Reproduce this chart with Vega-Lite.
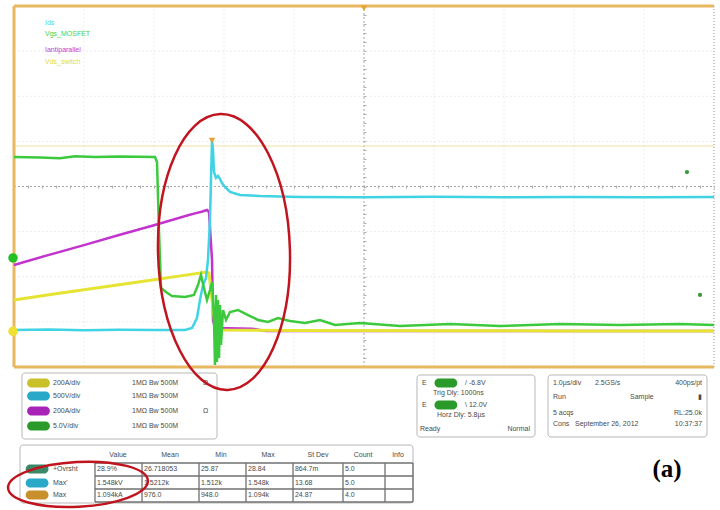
{
  "$schema": "https://vega.github.io/schema/vega-lite/v6.json",
  "width": 720,
  "height": 510,
  "autosize": "none",
  "padding": 0,
  "background": "white",
  "config": {"view": {"stroke": null}},
  "encoding": {
    "x": {"field": "x", "type": "quantitative", "scale": {"domain": [-0.2, 10.0857], "nice": false, "zero": false},
      "axis": {"orient": "bottom", "offset": -325, "domain": false, "labels": false, "grid": false, "title": null, "ticks": true, "tickSize": 3, "tickColor": "#b0b0b0", "tickWidth": 1,
        "values": [0,0.2,0.4,0.6,0.8,1,1.2,1.4,1.6,1.8,2,2.2,2.4,2.6,2.8,3,3.2,3.4,3.6,3.8,4,4.2,4.4,4.6,4.8,5,5.2,5.4,5.6,5.8,6,6.2,6.4,6.6,6.8,7,7.2,7.4,7.6,7.8,8,8.2,8.4,8.6,8.8,9,9.2,9.4,9.6,9.8,10]}},
    "y": {"field": "y", "type": "quantitative", "scale": {"domain": [-3.169, 8.133], "nice": false, "zero": false},
      "axis": {"orient": "left", "offset": -366, "domain": false, "labels": false, "grid": false, "title": null, "ticks": true, "tickSize": 3, "tickColor": "#b0b0b0", "tickWidth": 1,
        "values": [0,0.2,0.4,0.6,0.8,1,1.2,1.4,1.6,1.8,2,2.2,2.4,2.6,2.8,3,3.2,3.4,3.6,3.8,4,4.2,4.4,4.6,4.8,5,5.2,5.4,5.6,5.8,6,6.2,6.4,6.6,6.8,7,7.2,7.4,7.6,7.8,8]}}
  },
  "datasets": {
    "grid": [
      {"x": 1, "y": 0, "x2": 1, "y2": 8}, {"x": 2, "y": 0, "x2": 2, "y2": 8}, {"x": 3, "y": 0, "x2": 3, "y2": 8}, {"x": 4, "y": 0, "x2": 4, "y2": 8},
      {"x": 6, "y": 0, "x2": 6, "y2": 8}, {"x": 7, "y": 0, "x2": 7, "y2": 8}, {"x": 8, "y": 0, "x2": 8, "y2": 8}, {"x": 9, "y": 0, "x2": 9, "y2": 8},
      {"x": 0, "y": 1, "x2": 10, "y2": 1}, {"x": 0, "y": 2, "x2": 10, "y2": 2}, {"x": 0, "y": 3, "x2": 10, "y2": 3},
      {"x": 0, "y": 5, "x2": 10, "y2": 5}, {"x": 0, "y": 6, "x2": 10, "y2": 6}, {"x": 0, "y": 7, "x2": 10, "y2": 7}
    ],
    "center": [
      {"x": 5, "y": 0, "x2": 5, "y2": 8}, {"x": 0, "y": 4, "x2": 10, "y2": 4}
    ],
    "border": [
      {"x": 0, "y": 0, "x2": 0, "y2": 8}, {"x": 0, "y": 8, "x2": 10, "y2": 8}, {"x": 0, "y": 0, "x2": 10, "y2": 0}
    ],
    "rborder": [{"x": 10, "y": 0, "x2": 10, "y2": 8}],
    "trig": [{"x": 0, "y": 4.898, "x2": 10, "y2": 4.898}],
    "boxes": [
      {"x": 0.114, "x2": 2.9, "y": -0.133, "y2": -1.596},
      {"x": 0.086, "x2": 5.7, "y": -1.729, "y2": -3.014},
      {"x": 5.757, "x2": 7.443, "y": -0.177, "y2": -1.551},
      {"x": 7.629, "x2": 9.9, "y": -0.177, "y2": -1.551}
    ],
    "table": [
      {"x": 1.157, "y": -2.127, "x2": 5.7, "y2": -2.127}, {"x": 1.157, "y": -2.416, "x2": 5.7, "y2": -2.416},
      {"x": 1.157, "y": -2.704, "x2": 5.7, "y2": -2.704}, {"x": 1.157, "y": -2.992, "x2": 5.7, "y2": -2.992},
      {"x": 1.157, "y": -2.127, "x2": 1.157, "y2": -2.992}, {"x": 1.829, "y": -2.127, "x2": 1.829, "y2": -2.992},
      {"x": 2.643, "y": -2.127, "x2": 2.643, "y2": -2.992}, {"x": 3.314, "y": -2.127, "x2": 3.314, "y2": -2.992},
      {"x": 3.986, "y": -2.127, "x2": 3.986, "y2": -2.992}, {"x": 4.7, "y": -2.127, "x2": 4.7, "y2": -2.992},
      {"x": 5.3, "y": -2.127, "x2": 5.3, "y2": -2.992}, {"x": 5.7, "y": -2.127, "x2": 5.7, "y2": -2.992}
    ],
    "magenta": [
      {"x": 0, "y": 2.26}, {"x": 0.5, "y": 2.485}, {"x": 1.0, "y": 2.70}, {"x": 1.5, "y": 2.925}, {"x": 2.0, "y": 3.14},
      {"x": 2.5, "y": 3.37}, {"x": 2.6, "y": 3.41}, {"x": 2.68, "y": 3.44}, {"x": 2.757, "y": 3.479}, {"x": 2.786, "y": 3.435},
      {"x": 2.829, "y": 2.371}, {"x": 2.843, "y": 1.042}, {"x": 2.871, "y": 0.864}, {"x": 3.4, "y": 0.85}, {"x": 3.6, "y": 0.8}, {"x": 10, "y": 0.798}
    ],
    "yellow": [
      {"x": 0, "y": 1.485}, {"x": 0.5, "y": 1.6}, {"x": 1.0, "y": 1.71}, {"x": 1.5, "y": 1.825}, {"x": 2.0, "y": 1.935},
      {"x": 2.5, "y": 2.047}, {"x": 2.757, "y": 2.105}, {"x": 2.786, "y": 2.083}, {"x": 2.829, "y": 1.485}, {"x": 2.871, "y": 0.931},
      {"x": 2.943, "y": 0.82}, {"x": 4, "y": 0.81}, {"x": 6, "y": 0.805}, {"x": 8, "y": 0.8}, {"x": 10, "y": 0.798}
    ],
    "cyan": [
      {"x": 0, "y": 0.82}, {"x": 0.5, "y": 0.83}, {"x": 1.0, "y": 0.815}, {"x": 1.5, "y": 0.825}, {"x": 2.0, "y": 0.82},
      {"x": 2.443, "y": 0.82}, {"x": 2.543, "y": 0.864}, {"x": 2.614, "y": 1.086}, {"x": 2.657, "y": 1.485}, {"x": 2.7, "y": 1.817},
      {"x": 2.743, "y": 1.972}, {"x": 2.771, "y": 2.371}, {"x": 2.8, "y": 3.258}, {"x": 2.814, "y": 4.144}, {"x": 2.829, "y": 5.03},
      {"x": 2.843, "y": 4.809}, {"x": 2.857, "y": 4.321}, {"x": 2.886, "y": 4.188}, {"x": 2.914, "y": 4.233}, {"x": 2.943, "y": 4.166},
      {"x": 2.971, "y": 4.078}, {"x": 3.014, "y": 3.989}, {"x": 3.086, "y": 3.878}, {"x": 3.229, "y": 3.812}, {"x": 3.514, "y": 3.789},
      {"x": 4.086, "y": 3.767}, {"x": 5, "y": 3.76}, {"x": 6, "y": 3.775}, {"x": 7, "y": 3.76}, {"x": 8, "y": 3.77}, {"x": 9, "y": 3.76}, {"x": 10, "y": 3.767}
    ],
    "green": [
      {"x": 0, "y": 4.654}, {"x": 0.371, "y": 4.645}, {"x": 0.657, "y": 4.628}, {"x": 0.871, "y": 4.672}, {"x": 1.157, "y": 4.654},
      {"x": 1.514, "y": 4.664}, {"x": 2.014, "y": 4.654}, {"x": 2.043, "y": 4.543}, {"x": 2.071, "y": 3.036}, {"x": 2.1, "y": 1.751},
      {"x": 2.171, "y": 1.662}, {"x": 2.257, "y": 1.573}, {"x": 2.443, "y": 1.551}, {"x": 2.571, "y": 1.596}, {"x": 2.629, "y": 1.817},
      {"x": 2.671, "y": 2.039}, {"x": 2.714, "y": 1.751}, {"x": 2.757, "y": 1.485}, {"x": 2.8, "y": 1.706}, {"x": 2.829, "y": 1.884},
      {"x": 2.857, "y": 1.042}, {"x": 2.871, "y": 0.044}, {"x": 2.886, "y": 1.596}, {"x": 2.9, "y": 0.111}, {"x": 2.914, "y": 1.485},
      {"x": 2.929, "y": 0.2}, {"x": 2.943, "y": 1.374}, {"x": 2.957, "y": 0.488}, {"x": 2.986, "y": 1.263}, {"x": 3.029, "y": 1.042},
      {"x": 3.086, "y": 1.219}, {"x": 3.2, "y": 1.263}, {"x": 3.343, "y": 1.152}, {"x": 3.486, "y": 1.042}, {"x": 3.629, "y": 0.997},
      {"x": 3.771, "y": 1.086}, {"x": 3.943, "y": 1.019}, {"x": 4.157, "y": 0.975}, {"x": 4.371, "y": 1.042}, {"x": 4.586, "y": 0.931},
      {"x": 4.943, "y": 0.975}, {"x": 5.514, "y": 0.909}, {"x": 6.229, "y": 0.953}, {"x": 6.943, "y": 0.909}, {"x": 7.8, "y": 0.953},
      {"x": 8.657, "y": 0.931}, {"x": 9.514, "y": 0.953}, {"x": 10, "y": 0.931}
    ],
    "badges": [
      {"x": 0.35, "y": -0.355, "b": "bY"}, {"x": 0.35, "y": -0.643, "b": "bC"}, {"x": 0.35, "y": -0.975, "b": "bM"}, {"x": 0.35, "y": -1.307, "b": "bG"},
      {"x": 0.33, "y": -2.26, "b": "bT"}, {"x": 0.33, "y": -2.571, "b": "bC"}, {"x": 0.33, "y": -2.837, "b": "bO"},
      {"x": 6.17, "y": -0.355, "b": "bG"}, {"x": 6.17, "y": -0.842, "b": "bG"}
    ],
    "legend": [
      {"x": 0.443, "y": 7.623, "b": "lC", "t": "Ids"},
      {"x": 0.443, "y": 7.38, "b": "lG", "t": "Vgs_MOSFET"},
      {"x": 0.443, "y": 7.025, "b": "lM", "t": "Iantiparallel"},
      {"x": 0.443, "y": 6.759, "b": "lY", "t": "Vds_switch"}
    ],
    "txtL": [
      {"x": 0.557, "y": -0.355, "t": "200A/div"}, {"x": 1.686, "y": -0.355, "t": "1MΩ  Bw 500M"},
      {"x": 0.557, "y": -0.643, "t": "500V/div"}, {"x": 1.686, "y": -0.643, "t": "1MΩ  Bw 500M"},
      {"x": 0.557, "y": -0.975, "t": "200A/div"}, {"x": 1.686, "y": -0.975, "t": "1MΩ  Bw 500M"},
      {"x": 0.557, "y": -1.307, "t": "5.0V/div"}, {"x": 1.686, "y": -1.307, "t": "1MΩ  Bw 500M"},
      {"x": 2.7, "y": -0.355, "t": "Ω"}, {"x": 2.7, "y": -0.975, "t": "Ω"},
      {"x": 5.83, "y": -0.355, "t": "E"}, {"x": 6.443, "y": -0.355, "t": "/  -6.8V"},
      {"x": 5.986, "y": -0.576, "t": "Trig Dly: 1000ns"},
      {"x": 5.83, "y": -0.842, "t": "E"}, {"x": 6.443, "y": -0.842, "t": "\\  12.0V"},
      {"x": 6.043, "y": -1.064, "t": "Horz Dly: 5.8µs"},
      {"x": 5.8, "y": -1.374, "t": "Ready"},
      {"x": 7.7, "y": -0.355, "t": "1.0µs/div"}, {"x": 8.3, "y": -0.355, "t": "2.5GS/s"},
      {"x": 7.7, "y": -0.665, "t": "Run"}, {"x": 8.8, "y": -0.665, "t": "Sample"},
      {"x": 7.7, "y": -1.019, "t": "5 acqs"},
      {"x": 7.7, "y": -1.263, "t": "Cons"}, {"x": 8.014, "y": -1.263, "t": "September 26, 2012"},
      {"x": 0.557, "y": -2.26, "t": "+Ovrsht"}, {"x": 0.557, "y": -2.571, "t": "Max'"}, {"x": 0.557, "y": -2.837, "t": "Max"},
      {"x": 1.186, "y": -2.26, "t": "28.9%"}, {"x": 1.857, "y": -2.26, "t": "26.718053"}, {"x": 2.671, "y": -2.26, "t": "25.87"},
      {"x": 3.343, "y": -2.26, "t": "28.84"}, {"x": 4.014, "y": -2.26, "t": "864.7m"}, {"x": 4.729, "y": -2.26, "t": "5.0"},
      {"x": 1.186, "y": -2.571, "t": "1.548kV"}, {"x": 1.857, "y": -2.571, "t": "1.5212k"}, {"x": 2.671, "y": -2.571, "t": "1.512k"},
      {"x": 3.343, "y": -2.571, "t": "1.548k"}, {"x": 4.014, "y": -2.571, "t": "13.68"}, {"x": 4.729, "y": -2.571, "t": "5.0"},
      {"x": 1.186, "y": -2.837, "t": "1.094kA"}, {"x": 1.857, "y": -2.837, "t": "976.0"}, {"x": 2.671, "y": -2.837, "t": "948.0"},
      {"x": 3.343, "y": -2.837, "t": "1.094k"}, {"x": 4.014, "y": -2.837, "t": "24.87"}, {"x": 4.729, "y": -2.837, "t": "4.0"}
    ],
    "txtR": [
      {"x": 9.829, "y": -0.355, "t": "400ps/pt"}, {"x": 9.829, "y": -0.665, "t": "▮"},
      {"x": 9.829, "y": -1.019, "t": "RL:25.0k"}, {"x": 9.829, "y": -1.263, "t": "10:37:37"},
      {"x": 7.371, "y": -1.374, "t": "Normal"}
    ],
    "txtC": [
      {"x": 1.486, "y": -1.95, "t": "Value"}, {"x": 2.229, "y": -1.95, "t": "Mean"}, {"x": 2.957, "y": -1.95, "t": "Min"},
      {"x": 3.629, "y": -1.95, "t": "Max"}, {"x": 4.343, "y": -1.95, "t": "St Dev"}, {"x": 4.986, "y": -1.95, "t": "Count"},
      {"x": 5.486, "y": -1.95, "t": "Info"}
    ]
  },
  "layer": [
    {"data": {"name": "grid"}, "mark": {"type": "rule", "stroke": "#ececec", "strokeWidth": 1, "strokeDash": [2, 2]},
      "encoding": {"x2": {"field": "x2"}, "y2": {"field": "y2"}}},
    {"data": {"name": "center"}, "mark": {"type": "rule", "stroke": "#a8a8a8", "strokeWidth": 1, "strokeDash": [2, 2]},
      "encoding": {"x2": {"field": "x2"}, "y2": {"field": "y2"}}},
    {"data": {"name": "trig"}, "mark": {"type": "rule", "stroke": "#f5dea6", "strokeWidth": 1},
      "encoding": {"x2": {"field": "x2"}, "y2": {"field": "y2"}}},
    {"data": {"name": "rborder"}, "mark": {"type": "rule", "stroke": "#c8c8c8", "strokeWidth": 2, "strokeDash": [1, 2]},
      "encoding": {"x2": {"field": "x2"}, "y2": {"field": "y2"}}},
    {"data": {"name": "border"}, "mark": {"type": "rule", "stroke": "#e8b860", "strokeWidth": 3},
      "encoding": {"x2": {"field": "x2"}, "y2": {"field": "y2"}}},
    {"data": {"name": "legend"}, "mark": {"type": "text", "align": "left", "baseline": "middle", "font": "Liberation Sans", "fontSize": 7},
      "encoding": {"text": {"field": "t"}, "fill": {"field": "b", "type": "nominal", "legend": null,
        "scale": {"domain": ["bY", "bC", "bM", "bG", "bT", "bO", "lC", "lG", "lM", "lY"], "range": ["#c9c02a", "#2aa8c8", "#a823b8", "#2a9a2a", "#3a8a6a", "#c8902a", "#48d8e8", "#48d048", "#c040d0", "#e0dc40"]}}}},
    {"data": {"name": "magenta"}, "mark": {"type": "line", "stroke": "#c233cf", "strokeWidth": 2.5},
      "encoding": {"order": {"value": null}}},
    {"data": {"name": "yellow"}, "mark": {"type": "line", "stroke": "#e6e432", "strokeWidth": 3},
      "encoding": {"order": {"value": null}}},
    {"data": {"name": "cyan"}, "mark": {"type": "line", "stroke": "#3fd3e3", "strokeWidth": 2.5},
      "encoding": {"order": {"value": null}}},
    {"data": {"name": "green"}, "mark": {"type": "line", "stroke": "#3dc93d", "strokeWidth": 2.5},
      "encoding": {"order": {"value": null}}},
    {"data": {"values": [{"x": -0.014, "y": 2.416}]}, "mark": {"type": "point", "shape": "circle", "filled": true, "fill": "#22c022", "size": 90, "opacity": 1}},
    {"data": {"values": [{"x": -0.014, "y": 0.79}]}, "mark": {"type": "point", "shape": "circle", "filled": true, "fill": "#f0e030", "size": 90, "opacity": 1}},
    {"data": {"values": [{"x": 9.614, "y": 4.321}, {"x": 9.8, "y": 1.596}]}, "mark": {"type": "point", "shape": "circle", "filled": true, "fill": "#3a9a3a", "size": 18, "opacity": 1}},
    {"data": {"values": [{"x": 5, "y": 7.95}, {"x": 2.829, "y": 5.02}]}, "mark": {"type": "point", "shape": "triangle-down", "filled": true, "fill": "#e8a030", "size": 40, "opacity": 1}},
    {"data": {"name": "boxes"}, "mark": {"type": "rect", "fill": "white", "stroke": "#b8b8b8", "strokeWidth": 1, "cornerRadius": 3},
      "encoding": {"x2": {"field": "x2"}, "y2": {"field": "y2"}}},
    {"data": {"name": "table"}, "mark": {"type": "rule", "stroke": "#707070", "strokeWidth": 1.3},
      "encoding": {"x2": {"field": "x2"}, "y2": {"field": "y2"}}},
    {"data": {"name": "badges"}, "mark": {"type": "point", "filled": true, "size": 520, "opacity": 1, "strokeWidth": 0,
        "shape": "M-0.6,-0.4 L0.6,-0.4 C0.82,-0.4 1,-0.22 1,0 C1,0.22 0.82,0.4 0.6,0.4 L-0.6,0.4 C-0.82,0.4 -1,0.22 -1,0 C-1,-0.22 -0.82,-0.4 -0.6,-0.4 Z"},
      "encoding": {"fill": {"field": "b", "type": "nominal", "legend": null}}},
    {"data": {"name": "txtL"}, "mark": {"type": "text", "align": "left", "baseline": "middle", "font": "Liberation Sans", "fontSize": 7, "fill": "#4a4a4a"},
      "encoding": {"text": {"field": "t"}}},
    {"data": {"name": "txtR"}, "mark": {"type": "text", "align": "right", "baseline": "middle", "font": "Liberation Sans", "fontSize": 7, "fill": "#4a4a4a"},
      "encoding": {"text": {"field": "t"}}},
    {"data": {"name": "txtC"}, "mark": {"type": "text", "align": "center", "baseline": "middle", "font": "Liberation Sans", "fontSize": 7, "fill": "#4a4a4a"},
      "encoding": {"text": {"field": "t"}}},
    {"data": {"values": [{"x": 9.329, "y": -2.26, "t": "(a)"}]}, "mark": {"type": "text", "align": "center", "baseline": "middle", "font": "Liberation Serif", "fontSize": 25, "fontWeight": "bold", "fill": "#000000"},
      "encoding": {"text": {"field": "t"}}},
    {"data": {"values": [{"x": 3.0, "y": 2.548}]}, "mark": {"type": "point", "filled": false, "stroke": "#c0141e", "strokeWidth": 2.5, "size": 76176, "angle": 358.5, "opacity": 1,
        "shape": "M0,-1 C0.264,-1 0.478,-0.552 0.478,0 C0.478,0.552 0.264,1 0,1 C-0.264,1 -0.478,0.552 -0.478,0 C-0.478,-0.552 -0.264,-1 0,-1 Z"}},
    {"data": {"values": [{"x": 0.914, "y": -2.6}]}, "mark": {"type": "point", "filled": false, "stroke": "#c0141e", "strokeWidth": 2.5, "size": 19600, "angle": 357, "opacity": 1,
        "shape": "M0,-0.32 C0.552,-0.32 1,-0.177 1,0 C1,0.177 0.552,0.32 0,0.32 C-0.552,0.32 -1,0.177 -1,0 C-1,-0.177 -0.552,-0.32 0,-0.32 Z"}}
  ]
}
